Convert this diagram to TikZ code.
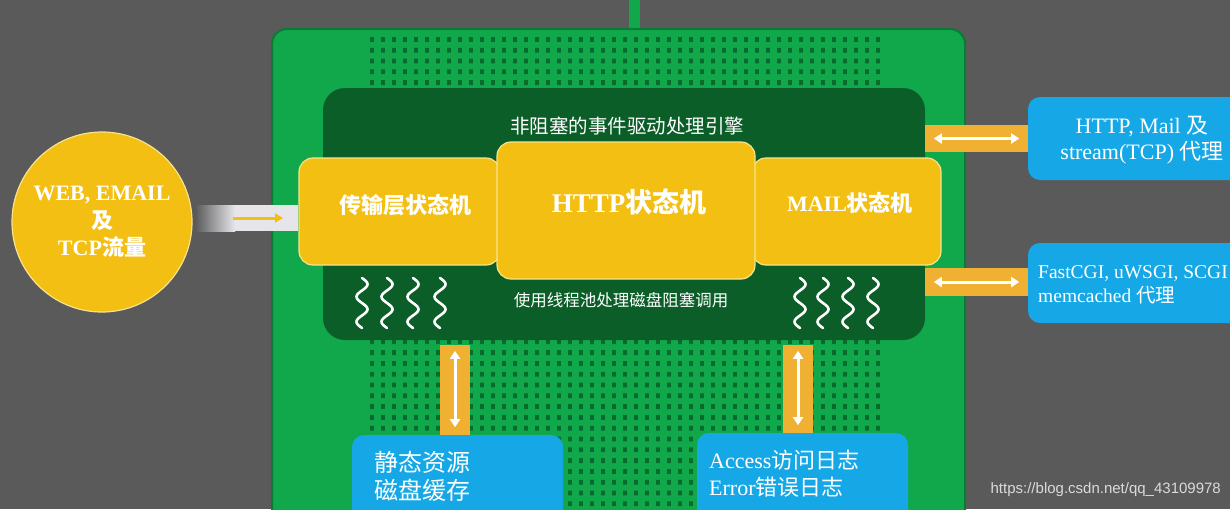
\documentclass[tikz,border=0pt]{standalone}
\usepackage{fontspec}
\setmainfont{Liberation Serif}
\newfontfamily\cjk{Noto Sans CJK SC}
\newfontfamily\wmfont{Liberation Sans}
\usetikzlibrary{arrows.meta}
\definecolor{bg}{HTML}{5A5A5A}
\definecolor{boardgreen}{HTML}{11A84C}
\definecolor{boardedge}{HTML}{0B7A35}
\definecolor{panelgreen}{HTML}{0B5E28}
\definecolor{dotgreen}{HTML}{096A2E}
\definecolor{yel}{HTML}{F4BF13}
\definecolor{yeledge}{HTML}{F9E38A}
\definecolor{orng}{HTML}{F0B032}
\definecolor{blu}{HTML}{16A8E6}
\definecolor{band}{HTML}{E6E6EA}
\definecolor{wm}{HTML}{DADADA}
\tikzset{
  yelbox/.style={rectangle, rounded corners=14pt, fill=yel, draw=yeledge, line width=1.2pt, inner sep=0pt},
  blubox/.style={rectangle, rounded corners=12pt, fill=blu, inner sep=0pt},
  orband/.style={rectangle, fill=orng, inner sep=0pt},
  dblarrow/.style={draw=white, line width=3pt, {Triangle[width=10pt,length=8pt]}-{Triangle[width=10pt,length=8pt]}},
  squig/.style={draw=white, line width=2.6pt, line cap=round},
  wtext/.style={text=white, inner sep=0pt},
}
\begin{document}
\begin{tikzpicture}[x=1pt,y=-1pt]
\useasboundingbox (0,0) rectangle (1230,509);
\clip (0,0) rectangle (1230,509);
\fill[bg] (0,0) rectangle (1230,509);

% board
\node[rectangle, rounded corners=15pt, fill=boardgreen, draw=boardedge, line width=2pt,
      minimum width=693pt, minimum height=540pt, inner sep=0pt] (board) at (618.5,299) {};
\coordinate (top) at (634,0);
\draw[boardgreen, line width=11pt] (top) -- (top |- board.north);

% dot grid
\fill[dotgreen] \foreach \i in {0,...,46}{\foreach \j in {0,...,43}{
  (370+\i*11, 37+\j*10.8) rectangle ++(3.8,4.8) }};

% dark panel
\node[rectangle, rounded corners=22pt, fill=panelgreen, minimum width=602pt,
      minimum height=252pt, inner sep=0pt] (panel) at (624,214) {};
\node[wtext, font=\cjk\fontsize{19.5}{22}\selectfont] (engine) at (627,126) {非阻塞的事件驱动处理引擎};
\node[wtext, font=\cjk\fontsize{16.5}{20}\selectfont] (pool) at (621,300) {使用线程池处理磁盘阻塞调用};

% squiggles
\foreach \cx in {362,387,413,440,800,823,848,873}{
  \draw[squig, shift={(\cx,278)}] plot[domain=0:50, samples=50, smooth] ({5.5*sin(\x*14.4)},\x);
}

% yellow boxes
\node[yelbox, minimum width=201pt, minimum height=107pt] (trans) at (399.5,211.5) {};
\node[yelbox, minimum width=189pt, minimum height=107pt] (mail) at (846.5,211.5) {};
\node[yelbox, minimum width=258pt, minimum height=137pt] (http) at (626,210.5) {};
\node[wtext, font=\fontsize{22}{26}\selectfont\cjk\bfseries] (transT) at (405,205) {传输层状态机};
\node[wtext, font=\fontsize{27}{30}\selectfont\bfseries] (httpT) at (629,202) {HTTP{\cjk 状态机}};
\node[wtext, font=\fontsize{22}{26}\selectfont\bfseries] (mailT) at (850,203) {MAIL{\cjk 状态机}};

% input circle
\node[circle, fill=yel, draw=yeledge, line width=1.2pt, minimum size=180pt, inner sep=0pt,
      text=white, align=center, font=\fontsize{22}{27.5}\selectfont\bfseries] (src) at (102,222)
      {WEB, EMAIL\\{\cjk 及}\\TCP{\cjk 流量}};

% entry band
\shade[left color=bg, right color=band] (195,205) rectangle (235,231);
\fill[band] (234.5,205) rectangle (298,231);
\coordinate (inA) at (233,218);
\coordinate (inB) at (283,218);
\draw[yel, line width=3pt, -{Triangle[width=9pt,length=8pt]}] (inA) -- (inB);

% right side
\node[orband, minimum width=103pt, minimum height=27pt] (bandR1) at (976.5,138.5) {};
\node[orband, minimum width=103pt, minimum height=28pt] (bandR2) at (976.5,282) {};
\node[blubox, minimum width=260pt, minimum height=83pt] (proxy) at (1158,138.5) {};
\node[blubox, minimum width=260pt, minimum height=80pt] (cgi) at (1158,283) {};
\draw[dblarrow] ([xshift=9pt]bandR1.west) -- ([xshift=-9pt]bandR1.east);
\draw[dblarrow] ([xshift=9pt]bandR2.west) -- ([xshift=-9pt]bandR2.east);
\node[wtext, align=center, font=\fontsize{22}{26}\selectfont] (proxyT) at (1142,140)
  {HTTP, Mail {\cjk 及}\\stream(TCP) {\cjk 代理}};
\node[wtext, anchor=west, align=left, font=\fontsize{19.5}{24}\selectfont] (cgiT) at (1038,285)
  {FastCGI, uWSGI, SCGI\\memcached {\cjk 代理}};

% bottom
\node[orband, minimum width=30pt, minimum height=91pt] (bandB1) at (455,390.5) {};
\node[orband, minimum width=30pt, minimum height=89pt] (bandB2) at (798,389.5) {};
\node[blubox, minimum width=211pt, minimum height=110pt] (disk) at (457.5,490) {};
\node[blubox, minimum width=211pt, minimum height=112pt] (logs) at (802.5,489) {};
\draw[dblarrow] ([yshift=-6pt]bandB1.north) -- ([yshift=9pt]bandB1.south);
\draw[dblarrow] ([yshift=-6pt]bandB2.north) -- ([yshift=9pt]bandB2.south);
\node[wtext, anchor=west, align=left, font=\cjk\fontsize{24}{28}\selectfont] (diskT) at (374,476)
  {静态资源\\磁盘缓存};
\node[wtext, anchor=west, align=left, font=\fontsize{22}{27}\selectfont] (logsT) at (709,473.5)
  {Access{\cjk 访问日志}\\Error{\cjk 错误日志}};

% watermark
\node[anchor=east, text=wm, inner sep=0pt, font=\wmfont\fontsize{15}{18}\selectfont] (wmark) at (1221,490)
  {https://blog.csdn.net/qq\_43109978};
\end{tikzpicture}
\end{document}
